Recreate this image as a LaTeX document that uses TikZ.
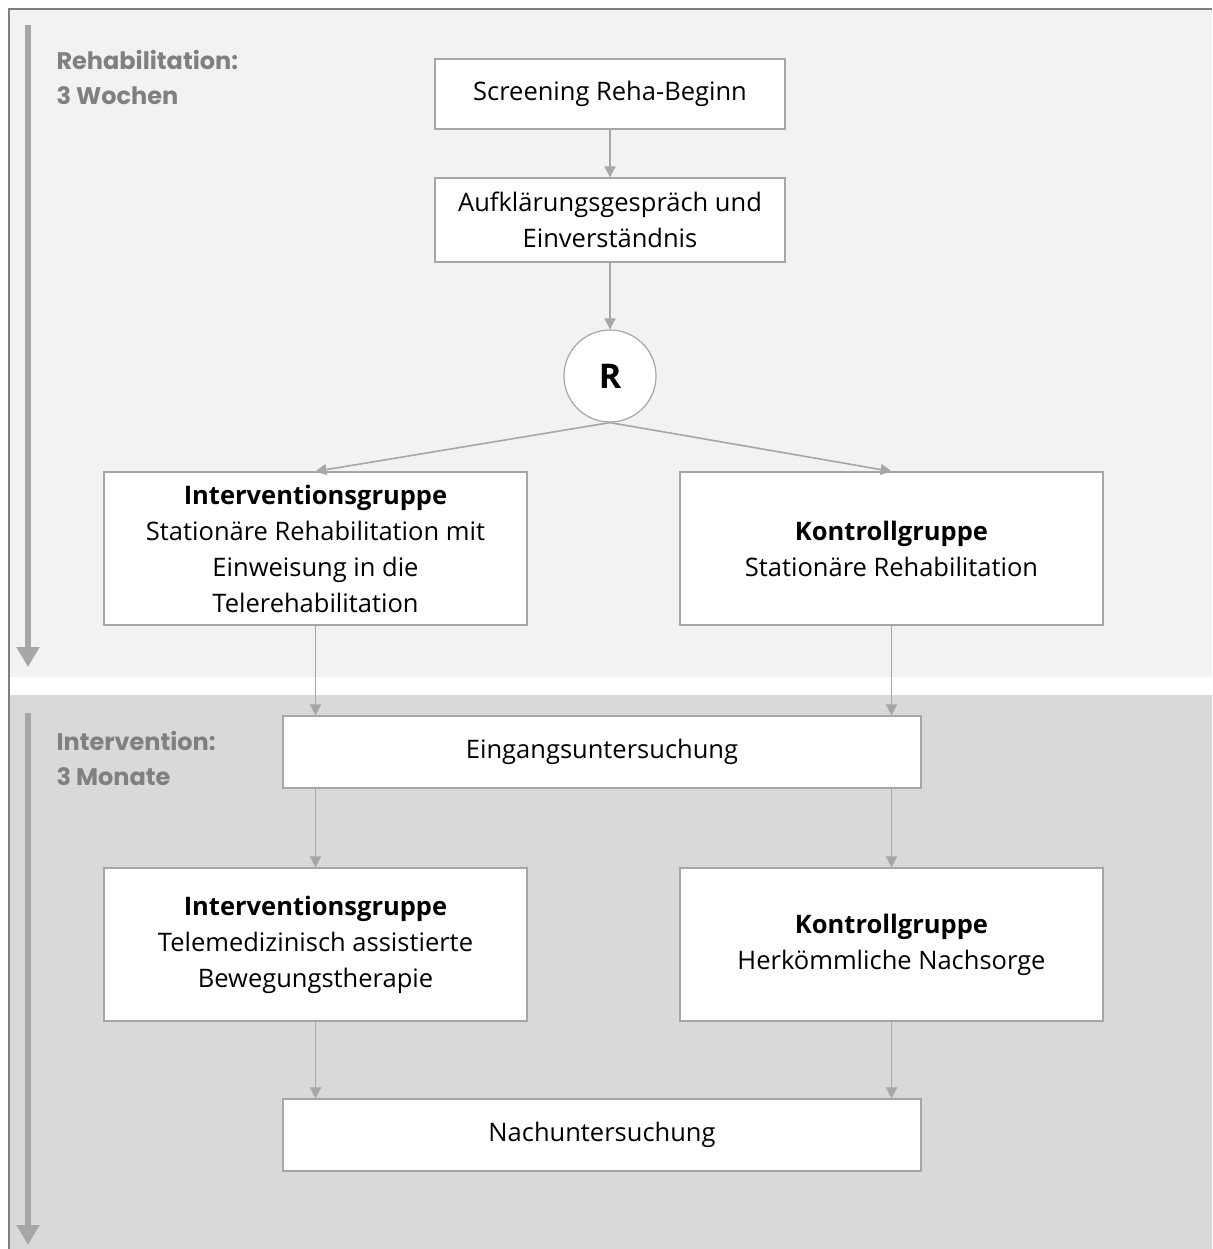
\documentclass[tikz,border=0pt]{standalone}
\usepackage{fontspec}
\setmainfont{Open Sans}
\newfontfamily\phasefont{Poppins}
\usetikzlibrary{arrows.meta,positioning}

\definecolor{phaseone}{HTML}{F2F2F2}
\definecolor{phasetwo}{HTML}{D9D9D9}
\definecolor{linegray}{HTML}{A6A6A6}
\definecolor{framegray}{HTML}{7F7F7F}
\definecolor{labelgray}{HTML}{808080}

\tikzset{
  stepbox/.style={draw=linegray, line width=1.2pt, fill=white, align=center,
    inner sep=0pt, font=\fontsize{25.5}{36}\selectfont},
  narrowbox/.style={stepbox, minimum width=350pt},
  groupbox/.style={stepbox, minimum width=423pt, minimum height=153pt},
  widebox/.style={stepbox, minimum width=638pt, minimum height=72pt},
  flow/.style={draw=linegray, line width=1.6pt, -{Triangle[width=11pt,length=11pt]}},
  phasearrow/.style={draw=linegray, line width=6pt, -{Triangle[width=22pt,length=20pt]}},
  phaselabel/.style={anchor=north west, align=left, text=labelgray,
    font=\phasefont\bfseries\fontsize{24}{35}\selectfont}
}

\begin{document}
\begin{tikzpicture}[x=1pt,y=-1pt]
  \useasboundingbox (0,0) rectangle (1212,1249);
  % phases
  \fill[phaseone] (9,9) rectangle (1212,677);
  \fill[phasetwo] (9,695) rectangle (1212,1249);
  \draw[framegray, line width=2pt] (9,1249) -- (9,9) -- (1212,9);

  \coordinate (rehastart) at (28,25);
  \coordinate (rehaend) at (28,667);
  \coordinate (intstart) at (28,713);
  \coordinate (intend) at (28,1245);
  \draw[phasearrow] (rehastart) -- (rehaend);
  \draw[phasearrow] (intstart) -- (intend);
  \node[phaselabel] (rehalabel) at (53,47) {Rehabilitation:\\3 Wochen};
  \node[phaselabel] (intlabel) at (53,728) {Intervention:\\3 Monate};

  % flow
  \node[narrowbox, minimum height=70pt] (screen) at (610,94) {Screening Reha-Beginn};
  \node[narrowbox, minimum height=84pt] (consent) at (610,220)
    {Aufklärungsgespräch und\\Einverständnis};
  \node[circle, draw=linegray, line width=1.2pt, fill=white, minimum size=92pt,
    font=\bfseries\fontsize{34}{34}\selectfont] (rand) at (610,376) {R};
  \node[groupbox] (ig1) at (315.5,548.5)
    {\textbf{Interventionsgruppe}\\Stationäre Rehabilitation mit\\Einweisung in die\\Telerehabilitation};
  \node[groupbox] (kg1) at (891.5,548.5)
    {\textbf{Kontrollgruppe}\\Stationäre Rehabilitation};
  \node[widebox] (entry) at (602,752) {Eingangsuntersuchung};
  \node[groupbox] (ig2) at (315.5,944.5)
    {\textbf{Interventionsgruppe}\\Telemedizinisch assistierte\\Bewegungstherapie};
  \node[groupbox] (kg2) at (891.5,944.5)
    {\textbf{Kontrollgruppe}\\Herkömmliche Nachsorge};
  \node[widebox] (final) at (602,1135) {Nachuntersuchung};

  \draw[flow] (screen) -- (consent);
  \draw[flow] (consent) -- (rand);
  \draw[flow] (rand.south) -- (ig1.north);
  \draw[flow] (rand.south) -- (kg1.north);
  \draw[flow] (ig1.south) -- (ig1.south |- entry.north);
  \draw[flow] (kg1.south) -- (kg1.south |- entry.north);
  \draw[flow] (entry.south -| ig2.north) -- (ig2.north);
  \draw[flow] (entry.south -| kg2.north) -- (kg2.north);
  \draw[flow] (ig2.south) -- (ig2.south |- final.north);
  \draw[flow] (kg2.south) -- (kg2.south |- final.north);
\end{tikzpicture}
\end{document}
